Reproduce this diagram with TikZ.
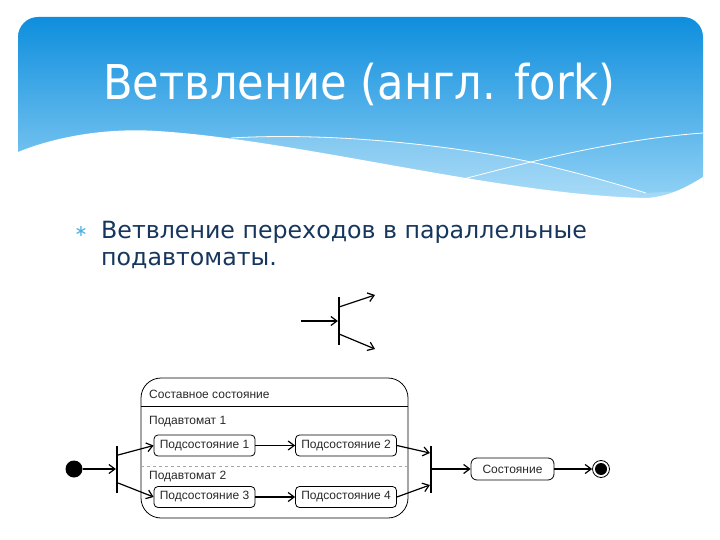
\documentclass[tikz,border=0pt]{standalone}
\usepackage{fontspec}
\setmainfont{DejaVu Sans}
\newfontfamily\titlefont{DejaVu Sans Condensed}
\newfontfamily\diafont{Liberation Sans}
\usetikzlibrary{arrows.meta, positioning}
\definecolor{hdrtop}{RGB}{14,142,221}
\definecolor{hdrbot}{RGB}{150,212,246}
\definecolor{bodyblue}{RGB}{23,54,93}
\definecolor{bulletblue}{RGB}{80,175,228}
\definecolor{diatext}{RGB}{40,40,40}
\tikzset{state/.style={rectangle,draw,rounded corners=4pt,line width=0.8pt,minimum width=101pt,minimum height=21pt,inner sep=1pt,font=\diafont\fontsize{12}{14}\selectfont,text=diatext},lbl/.style={anchor=west,inner sep=1pt,font=\diafont\fontsize{12}{14}\selectfont,text=diatext},bar/.style={rectangle,fill=black,inner sep=0pt,minimum width=1.8pt},line/.style={-{Straight Barb[length=6pt,width=9pt]},line width=1.2pt}}

\begin{document}
\begin{tikzpicture}[x=1pt,y=-1pt]
\useasboundingbox (0,0) rectangle (720,540);
% header
\shade[top color=hdrtop, bottom color=hdrbot, rounded corners=20pt] (18,17) rectangle (703,205);
\fill[white, opacity=0.2] (231,138) .. controls (330,132) and (450,145) .. (531,162) .. controls (580,173) and (620,185) .. (646,193) -- (703,190) -- (703,215) -- (231,215) -- cycle;
\fill[white] (18,152) .. controls (60,135) and (110,128) .. (157,131) .. controls (300,140) and (500,195) .. (646,198) .. controls (670,197) and (690,185) .. (703,177) -- (703,215) -- (18,215) -- cycle;
\draw[white, line width=0.8pt] (231,138) .. controls (330,132) and (450,145) .. (531,162) .. controls (580,173) and (620,185) .. (646,193);
\draw[white, line width=0.8pt] (448,183) .. controls (490,172) and (510,167) .. (531,162) .. controls (600,145) and (660,136) .. (703,133);
\node[anchor=base west, inner sep=0pt, text=white, font=\titlefont\fontsize{48}{58}\selectfont] (ttl) at (103,100) {Ветвление (англ. fork)};
% bullet
\node[text=bulletblue, inner sep=0pt, font=\fontsize{16}{16}\selectfont] (blt) at (81,231) {∗};
\node[anchor=north west, inner sep=0pt, align=left, text=bodyblue, font=\fontsize{23.7}{27}\selectfont] (txt) at (101,221) {Ветвление переходов в параллельные\\подавтоматы.};
% fork symbol
\node[bar, minimum height=48pt] (fsym) at (339,321) {};
\coordinate (fin0) at (301,321);
\coordinate (fo1) at (375,295);
\coordinate (fo2) at (375,349);
\draw[line] (fin0) -- (fsym);
\draw[line] ([yshift=14pt]fsym.center) -- (fo1);
\draw[line] ([yshift=-13pt]fsym.center) -- (fo2);
% composite state
\node[draw, rounded corners=20pt, line width=0.8pt, minimum width=267pt, minimum height=140pt] (comp) at (274.5,448) {};
\draw[line width=0.8pt] (141,406) -- (408,406);
\draw[dashed, gray!70, line width=0.6pt] (141,466) -- (408,466);
\node[lbl] (cname) at (148,394) {Составное состояние};
\node[lbl] (sub1) at (148,422) {Подавтомат 1};
\node[lbl] (sub2) at (148,477) {Подавтомат 2};
\node[state] (ss1) at (204.5,445.5) {Подсостояние 1};
\node[state] (ss2) at (346,445.5) {Подсостояние 2};
\node[state] (ss3) at (204.5,497) {Подсостояние 3};
\node[state] (ss4) at (346,497) {Подсостояние 4};
\node[circle, fill=black, inner sep=0pt, minimum size=17pt] (init) at (74,469) {};
\node[bar, minimum height=47pt] (fork) at (117,469) {};
\node[bar, minimum height=47pt] (join) at (431,469) {};
\node[state, minimum width=83pt, minimum height=22pt, rounded corners=6pt] (st) at (512.5,469) {Состояние};
\node[circle, draw, line width=0.8pt, inner sep=0pt, minimum size=17pt, path picture={\fill (path picture bounding box.center) circle (6pt);}] (fin) at (601,469) {};
\draw[line] (init) -- (fork);
\draw[line] ([yshift=14pt]fork.east) -- (ss1.west);
\draw[line] ([yshift=-14pt]fork.east) -- (ss3.west);
\draw[line] (ss1) -- (ss2);
\draw[line] (ss3) -- (ss4);
\draw[line] (ss2.east) -- ([yshift=16pt]join.west);
\draw[line] (ss4.east) -- ([yshift=-16pt]join.west);
\draw[line] (join) -- (st);
\draw[line] (st) -- (fin);
\end{tikzpicture}
\end{document}
